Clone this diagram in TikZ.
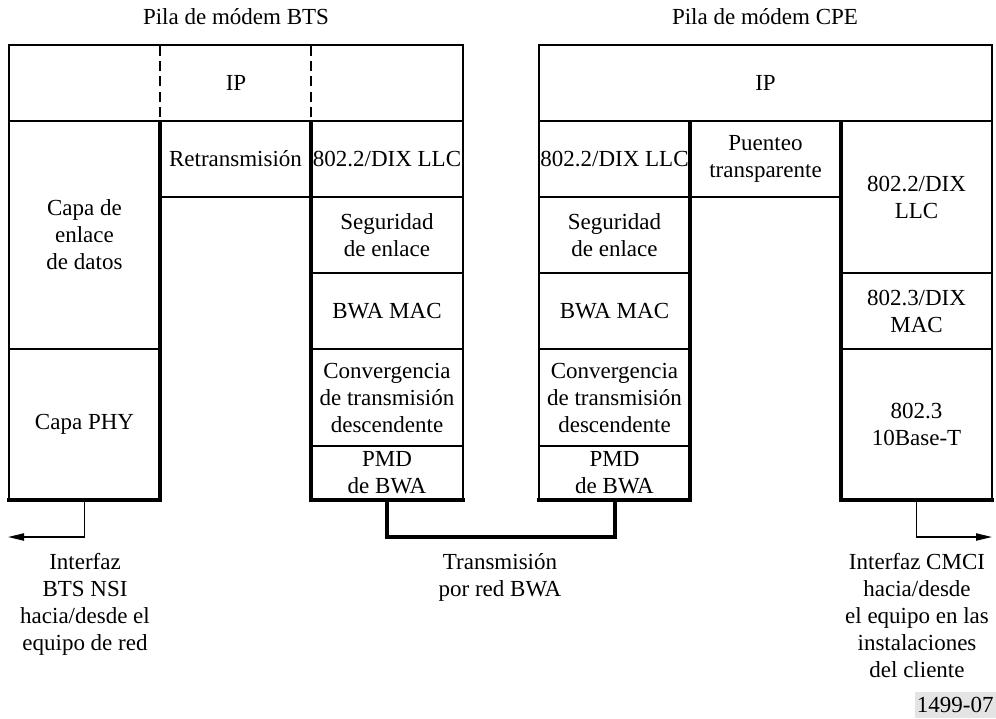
\documentclass[tikz,border=0pt]{standalone}
\usepackage{fontspec}
\setmainfont{Liberation Serif}
\usetikzlibrary{arrows.meta}

% one layer of a protocol stack, given by its corners (x1,y1) and (x2,y2)
\newcommand\stackcell[6]{%
  \node[layer, minimum width={(#4-#2)*0.5pt}, minimum height={(#5-#3)*0.5pt}]
    (#1) at ({(#2+#4)/2},{(#3+#5)/2}) {#6};}

\tikzset{
  layer/.style={draw, line width=0.9pt, inner sep=0.5pt, align=center,
                font=\fontsize{11.5pt}{13.5pt}\selectfont},
  heavy/.style={line width=2pt, line cap=rect},
  divider/.style={line width=1.2pt},
  ipsplit/.style={line width=1.3pt, dash pattern=on 5pt off 2.6pt},
  caption/.style={align=center, font=\fontsize{11.5pt}{13.5pt}\selectfont},
  title/.style={font=\fontsize{11.5pt}{13.5pt}\selectfont},
  iface/.style={line width=0.75pt, -{Triangle[length=8pt,width=3.6pt]}},
  airlink/.style={line width=2pt},
}

\begin{document}
\begin{tikzpicture}[x=0.5pt, y=-0.5pt]
  \useasboundingbox (0,0) rectangle (996,718);

  % stack titles
  \node[title] (btstitle) at (236,17) {Pila de módem BTS};
  \node[title] (cpetitle) at (765,17) {Pila de módem CPE};

  % ---- BTS modem stack ----
  \stackcell{btsip}{9}{45}{463}{121}{IP}
  \stackcell{dll}{9}{121}{160}{349}{Capa de\\enlace\\de datos}
  \stackcell{phy}{9}{349}{160}{500}{Capa PHY}
  \stackcell{relay}{160}{121}{311}{197}{Retransmisión}
  \stackcell{llcA}{311}{121}{463}{197}{802.2/DIX LLC}
  \stackcell{secA}{311}{197}{463}{273}{Seguridad\\de enlace}
  \stackcell{macA}{311}{273}{463}{349}{BWA MAC}
  \stackcell{tcA}{311}{349}{463}{446}{Convergencia\\de transmisión\\descendente}
  \stackcell{pmdA}{311}{446}{463}{500}{PMD\\de BWA}

  \draw[ipsplit] (160,46) -- (160,120);
  \draw[ipsplit] (311,46) -- (311,120);
  \draw[divider] (9,121) -- (463,121);
  \draw[heavy] (160,122) -- (160,500);
  \draw[heavy] (311,122) -- (311,500);
  \draw[heavy] (9,500) -- (160,500);
  \draw[heavy] (311,500) -- (463,500);

  % ---- CPE modem stack ----
  \stackcell{cpeip}{539}{45}{992}{121}{IP}
  \stackcell{llcB}{539}{121}{690}{197}{802.2/DIX LLC}
  \stackcell{secB}{539}{197}{690}{273}{Seguridad\\de enlace}
  \stackcell{macB}{539}{273}{690}{349}{BWA MAC}
  \stackcell{tcB}{539}{349}{690}{446}{Convergencia\\de transmisión\\descendente}
  \stackcell{pmdB}{539}{446}{690}{500}{PMD\\de BWA}
  \stackcell{bridge}{690}{121}{841}{197}{Puenteo\\transparente}
  \stackcell{ethllc}{841}{121}{992}{273}{802.2/DIX\\LLC}
  \stackcell{ethmac}{841}{273}{992}{349}{802.3/DIX\\MAC}
  \stackcell{tbase}{841}{349}{992}{500}{802.3\\10Base-T}

  \draw[divider] (539,121) -- (992,121);
  \draw[heavy] (690,122) -- (690,500);
  \draw[heavy] (841,122) -- (841,500);
  \draw[heavy] (539,500) -- (690,500);
  \draw[heavy] (841,500) -- (992,500);

  % ---- interfaces and the air link ----
  \coordinate (nsiend) at (8,537);
  \coordinate (cmciend) at (992,537);
  \coordinate (linkmid) at (500,537);

  \draw[iface] (phy.south) |- (nsiend);
  \draw[iface] (tbase.south) |- (cmciend);
  \draw[airlink] (pmdA.south) -- (pmdA.south |- linkmid) -| (pmdB.south);

  \node[caption] (nsilabel) at (85,604)
    {Interfaz\\BTS NSI\\hacia/desde el\\equipo de red};
  \node[caption] (linklabel) at (500,577)
    {Transmisión\\por red BWA};
  \node[caption] (cmcilabel) at (917,616)
    {Interfaz CMCI\\hacia/desde\\el equipo en las\\instalaciones\\del cliente};

  \node[fill={rgb,255:red,228;green,228;blue,228}, inner sep=1pt,
        minimum width=40pt, minimum height=13pt, anchor=south east,
        font=\fontsize{11.5pt}{13.5pt}\selectfont] (figtag) at (996,718) {1499-07};
\end{tikzpicture}
\end{document}
